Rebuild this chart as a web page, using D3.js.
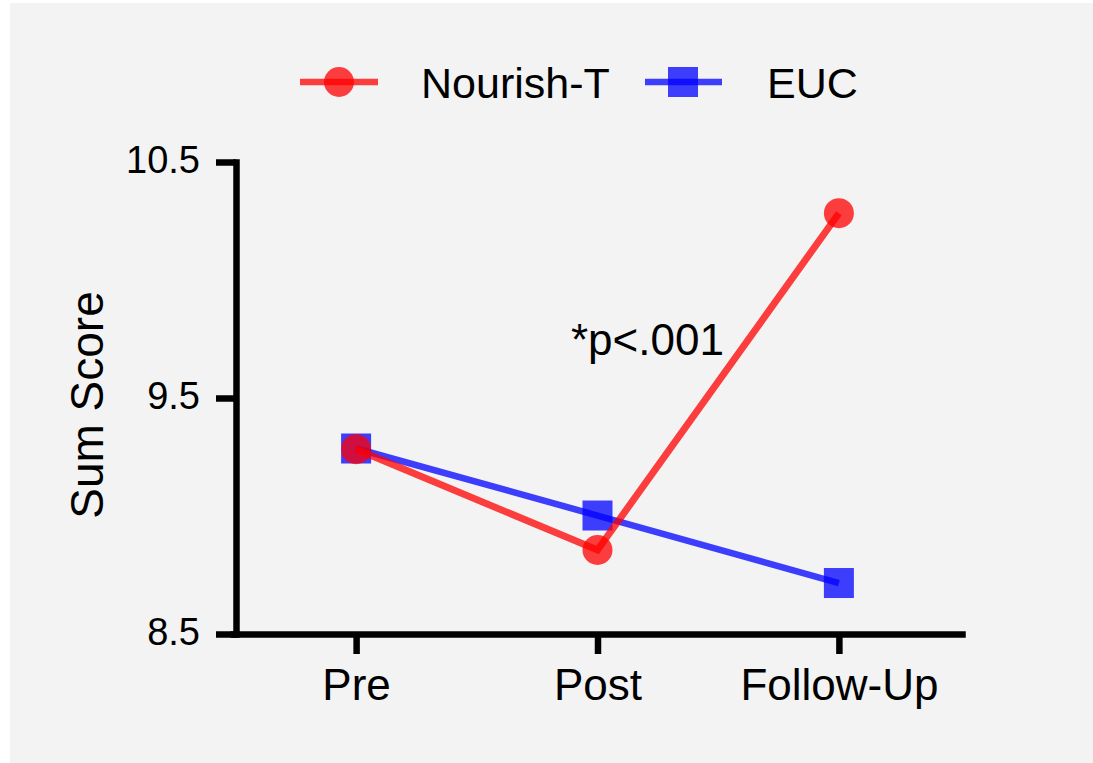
<!DOCTYPE html>
<html>
<head>
<meta charset="utf-8">
<script src="https://cdn.jsdelivr.net/npm/d3@7/dist/d3.min.js"></script>
<style>
  html, body { margin: 0; padding: 0; background: #ffffff; }
  svg { display: block; }
  text { font-family: "Liberation Sans", Arial, Helvetica, sans-serif; fill: #000; }
</style>
</head>
<body>
<svg id="chart" width="1093" height="763"></svg>
<script>
// ---- data ----
const categories = ["Pre", "Post", "Follow-Up"];
const nourishT = [9.283, 8.856, 10.283];
const euc = [9.286, 9.002, 8.716];
const yTicks = [8.5, 9.5, 10.5];
const seriesNames = ["Nourish-T", "EUC"];
const annotation = "*p<.001";
const yLabel = "Sum Score";

// ---- layout ----
const svg = d3.select("#chart");
svg.append("rect").attr("x", 10).attr("y", 3).attr("width", 1083).attr("height", 760).attr("fill", "#f3f3f3");

const x = d3.scalePoint().domain(categories).range([233, 962]).padding(0.51);
const y = d3.scaleLinear().domain([8.5, 10.5]).range([634, 162]);

const redCol = "rgba(255,0,0,0.75)";
const blueCol = "rgba(0,0,255,0.75)";

// axes
const yAxis = svg.append("g").attr("transform", "translate(236,0)")
  .call(d3.axisLeft(y).tickValues(yTicks).tickFormat(d3.format(".1f")).tickSize(20).tickSizeOuter(0).tickPadding(16));
const xAxis = svg.append("g").attr("transform", "translate(0,634)")
  .call(d3.axisBottom(x).tickSize(20).tickSizeOuter(0).tickPadding(15));

[yAxis, xAxis].forEach(g => {
  g.select(".domain").attr("stroke", "#000").attr("stroke-width", 6.5).attr("stroke-linecap", "square");
  g.selectAll(".tick line").attr("stroke", "#000").attr("stroke-width", 6.5);
  g.selectAll(".tick text").attr("font-family", "Liberation Sans, Arial, sans-serif").attr("fill", "#000");
});
yAxis.selectAll(".tick text").attr("font-size", 38).attr("dy", "0.27em");
xAxis.selectAll(".tick text").attr("font-size", 44).attr("dy", "0.71em");

// y label
svg.append("text").attr("transform", "translate(103,405) rotate(-90)")
  .attr("text-anchor", "middle").attr("font-size", 46).text(yLabel);

// lines
const line = d3.line().x((d, i) => x(categories[i])).y(d => y(d));
svg.append("path").datum(euc).attr("d", line).attr("fill", "none").attr("stroke", blueCol).attr("stroke-width", 6.5);
svg.selectAll(".sq").data(euc).enter().append("rect")
  .attr("x", (d, i) => x(categories[i]) - 15).attr("y", d => y(d) - 15)
  .attr("width", 30).attr("height", 30).attr("fill", blueCol);

svg.append("path").datum(nourishT).attr("d", line).attr("fill", "none").attr("stroke", redCol).attr("stroke-width", 7);
svg.selectAll(".ci").data(nourishT).enter().append("circle")
  .attr("cx", (d, i) => x(categories[i])).attr("cy", d => y(d))
  .attr("r", 15).attr("fill", redCol);

// annotation
svg.append("text").attr("x", 571).attr("y", 355).attr("font-size", 44).text(annotation);

// legend
const lg = svg.append("g");
lg.append("line").attr("x1", 300).attr("x2", 378).attr("y1", 82).attr("y2", 82).attr("stroke", redCol).attr("stroke-width", 6.5);
lg.append("circle").attr("cx", 339).attr("cy", 82).attr("r", 15).attr("fill", redCol);
lg.append("text").attr("x", 421).attr("y", 98).attr("font-size", 43).text(seriesNames[0]);
lg.append("line").attr("x1", 645).attr("x2", 722).attr("y1", 82).attr("y2", 82).attr("stroke", blueCol).attr("stroke-width", 6.5);
lg.append("rect").attr("x", 668).attr("y", 67).attr("width", 30).attr("height", 30).attr("fill", blueCol);
lg.append("text").attr("x", 767).attr("y", 98).attr("font-size", 43).text(seriesNames[1]);
</script>
</body>
</html>
